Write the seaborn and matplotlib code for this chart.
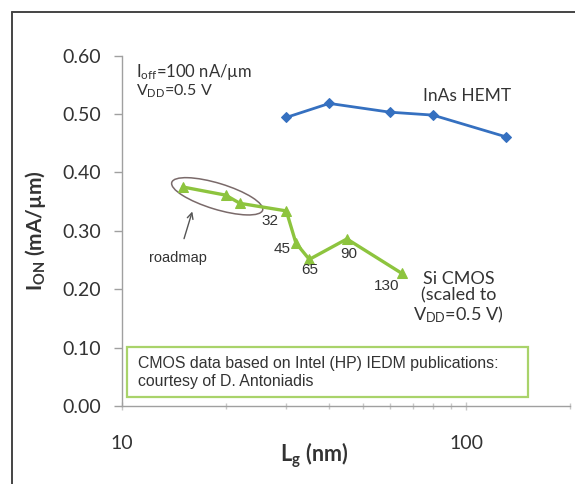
import numpy as np
import pandas as pd
import matplotlib
matplotlib.use("Agg")
import matplotlib.pyplot as plt
import seaborn as sns
from matplotlib.patches import Ellipse, Rectangle
from matplotlib.lines import Line2D
from matplotlib.transforms import ScaledTranslation
from matplotlib.ticker import FixedLocator, NullFormatter, FixedFormatter

# ---- data ----
hemt_lg = [30, 40, 60, 80, 130]
hemt_ion = [0.494, 0.518, 0.503, 0.498, 0.461]

cmos_lg = [15, 20, 22, 30, 32, 35, 45, 65]
cmos_ion = [0.375, 0.361, 0.347, 0.334, 0.279, 0.251, 0.286, 0.227]

node_labels = ["32", "45", "65", "90", "130"]
node_idx = [3, 4, 5, 6, 7]
node_offsets = [(-16, -10), (-14, -6), (0, -11), (2, -15), (-15, -13)]

y_ticks = [0.0, 0.1, 0.2, 0.3, 0.4, 0.5, 0.6]
x_major = [10, 100]
x_minor = [20, 30, 40, 50, 60, 70, 80, 90, 200]

sns.set_style("white")
plt.rcParams["font.family"] = ["Lato", "DejaVu Sans"]
plt.rcParams["mathtext.default"] = "regular"

BLUE = "#3570c0"
GREEN = "#8dc43e"
TXT = "#333333"
GRAY = "#a0a0a0"
ARIAL = ["Liberation Sans", "DejaVu Sans"]

fig = plt.figure(figsize=(5.75, 4.84), dpi=100)
ax = fig.add_axes([0.2122, 0.1611, 0.7790, 0.7242])

df_h = pd.DataFrame({"Lg": hemt_lg, "Ion": hemt_ion})
df_c = pd.DataFrame({"Lg": cmos_lg, "Ion": cmos_ion})

sns.lineplot(data=df_h, x="Lg", y="Ion", ax=ax, color=BLUE, lw=2.0,
             marker="D", markersize=5.5, markeredgecolor=BLUE, sort=False)
sns.lineplot(data=df_c, x="Lg", y="Ion", ax=ax, color=GREEN, lw=2.4,
             marker="^", markersize=7.5, markeredgecolor=GREEN, sort=False)

ax.set_xscale("log")
ax.set_xlim(10, 200)
ax.set_ylim(0, 0.6)

ax.xaxis.set_major_locator(FixedLocator(x_major))
ax.xaxis.set_major_formatter(FixedFormatter([str(v) for v in x_major]))
ax.xaxis.set_minor_locator(FixedLocator(x_minor))
ax.xaxis.set_minor_formatter(NullFormatter())
ax.set_yticks(y_ticks)
ax.set_yticklabels([f"{v:.2f}" for v in y_ticks])

for s in ["top", "right"]:
    ax.spines[s].set_visible(False)
for s in ["left", "bottom"]:
    ax.spines[s].set_color(GRAY)
    ax.spines[s].set_linewidth(1.0)

ax.tick_params(axis="y", which="major", left=True, length=6, width=1,
               color=GRAY, direction="out", pad=9, labelsize=14, labelcolor=TXT)
ax.tick_params(axis="x", which="both", bottom=True, length=6, width=1,
               color="#c8c8c8", direction="inout", pad=18, labelsize=14, labelcolor=TXT)
ax.tick_params(axis="x", which="minor", length=5)

ax.set_xlabel("L$_g$ (nm)", fontsize=15.5, fontweight="bold", color=TXT)
ax.set_ylabel("I$_{ON}$ (mA/µm)", fontsize=15, fontweight="bold", color=TXT)
ax.xaxis.set_label_coords(0.429, -0.141)
ax.xaxis.label.set_va("center")
ax.yaxis.set_label_coords(-0.194, 0.50)
ax.yaxis.label.set_va("center")

# node labels
for lab, i, (dx, dy) in zip(node_labels, node_idx, node_offsets):
    ax.annotate(lab, xy=(cmos_lg[i], cmos_ion[i]), xytext=(dx, dy),
                textcoords="offset pixels", ha="center", va="center",
                fontsize=11, color=TXT, family=ARIAL)

# annotations
ax.text(10.98, 0.5725, "I$_{off}$=100 nA/µm", fontsize=12, color=TXT,
        ha="left", va="center")
ax.text(10.98, 0.538, "V$_{DD}$=0.5 V", fontsize=11.5, color=TXT,
        ha="left", va="center")
ax.text(75, 0.531, "InAs HEMT", fontsize=12.5, color=TXT, ha="left", va="center")
ax.text(95, 0.185, "Si CMOS\n(scaled to\nV$_{DD}$=0.5 V)", fontsize=13, color=TXT,
        ha="center", va="center", linespacing=1.05)

ax.annotate("roadmap", xy=(16.0, 0.333), xytext=(14.55, 0.253),
            ha="center", va="center", fontsize=10.5, color=TXT, family=ARIAL,
            arrowprops=dict(arrowstyle="->", color="#555555", lw=1.0,
                            shrinkA=7, shrinkB=0))

# ellipse around roadmap points
etrans = fig.dpi_scale_trans + ScaledTranslation(18.9, 0.359, ax.transData)
ax.add_patch(Ellipse((0, 0), 0.95, 0.26, angle=-17, transform=etrans,
                     fill=False, ec="#7a6a6a", lw=1.1, zorder=1))

# note box
ax.add_patch(Rectangle((0.0105, 0.025), 0.8965, 0.143, transform=ax.transAxes,
                       fill=True, fc="white", ec="#a9d36a", lw=1.6, zorder=3))
ax.text(0.0357, 0.096,
        "CMOS data based on Intel (HP) IEDM publications:\ncourtesy of D. Antoniadis",
        transform=ax.transAxes, ha="left", va="center", fontsize=11.4,
        color=TXT, family=ARIAL, zorder=4, linespacing=1.2)

# outer frame (left and top edges)
fig.add_artist(Line2D([0.0209, 0.0209], [0.0, 0.9752], transform=fig.transFigure,
                      color="#444444", lw=1.4))
fig.add_artist(Line2D([0.0209, 1.0], [0.9752, 0.9752], transform=fig.transFigure,
                      color="#444444", lw=1.4))

fig.savefig("out.png", dpi=100)
